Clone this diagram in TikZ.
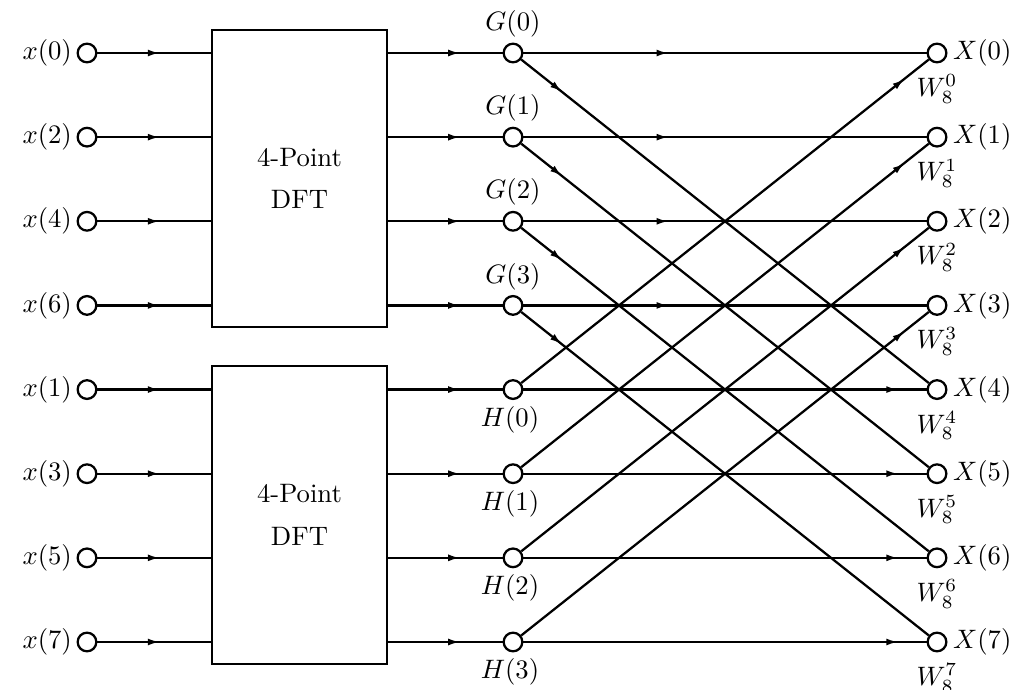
\documentclass[tikz,border=0pt]{standalone}
\usetikzlibrary{decorations.markings,arrows.meta,calc}
\begin{document}
\begin{tikzpicture}[x=0.375pt,y=-0.375pt,
  every path/.style={line width=0.85pt},
  pt/.style={draw,circle,fill=white,minimum size=7pt,inner sep=0pt,line width=0.85pt},
  dftbox/.style={draw,line width=0.85pt,minimum width=65.6pt,minimum height=111.5pt,align=center,inner sep=0pt},
  arr/.style={postaction={decorate},decoration={markings,mark=at position #1 with {\arrow{Latex[length=4.5pt,width=2.6pt]}}}}]
\useasboundingbox (0,0) rectangle (1015,689);
% rows
\def\ry#1{53+84.14*#1}
% boxes
\node[dftbox] (box1) at (299.5,178.5) {4-Point\\[4pt]DFT};
\node[dftbox] (box2) at (299.5,515) {4-Point\\[4pt]DFT};
% input nodes
\foreach \k/\r in {0/0,2/1,4/2,6/3,1/4,3/5,5/6,7/7}{
  \node[pt] (x\k) at (87,{\ry{\r}}) {};
  \node[anchor=east,inner sep=0pt] (lx\k) at (73,{\ry{\r}}) {$x(\k)$};
}
% G, H and X nodes
\foreach \k in {0,...,3}{
  \node[pt] (G\k) at (513,{\ry{\k}}) {};
  \node[inner sep=0pt] (lG\k) at (513,{\ry{\k}-29}) {$G(\k)$};
  \pgfmathtruncatemacro{\r}{\k+4}
  \node[pt] (H\k) at (513,{\ry{\r}}) {};
  \node[inner sep=0pt] (lH\k) at (510,{\ry{\r}+30}) {$H(\k)$};
}
\foreach \k in {0,...,7}{
  \node[pt] (X\k) at (937,{\ry{\k}}) {};
  \node[anchor=west,inner sep=0pt] (lX\k) at (952,{\ry{\k}}) {$X(\k)$};
  \node[inner sep=0pt] (W\k) at (937,{\ry{\k}+36}) {$W_8^{\k}$};
}
% input lines
\foreach \k in {0,2,4,6}{ \draw[arr=0.55] (x\k) -- (x\k -| box1.west); }
\foreach \k in {1,3,5,7}{ \draw[arr=0.55] (x\k) -- (x\k -| box2.west); }
% box outputs
\foreach \k in {0,...,3}{
  \draw[arr=0.63] (G\k -| box1.east) -- (G\k);
  \draw[arr=0.63] (H\k -| box2.east) -- (H\k);
}
% butterflies
\foreach \k in {0,...,3}{
  \pgfmathtruncatemacro{\m}{\k+4}
  \draw[arr=0.36] (G\k) -- (X\k);
  \draw[arr=0.1] (G\k) -- (X\m);
  \draw[arr=0.94] (H\k) -- (X\k);
  \draw[arr=0.93] (H\k) -- (X\m);
}
\end{tikzpicture}
\end{document}
